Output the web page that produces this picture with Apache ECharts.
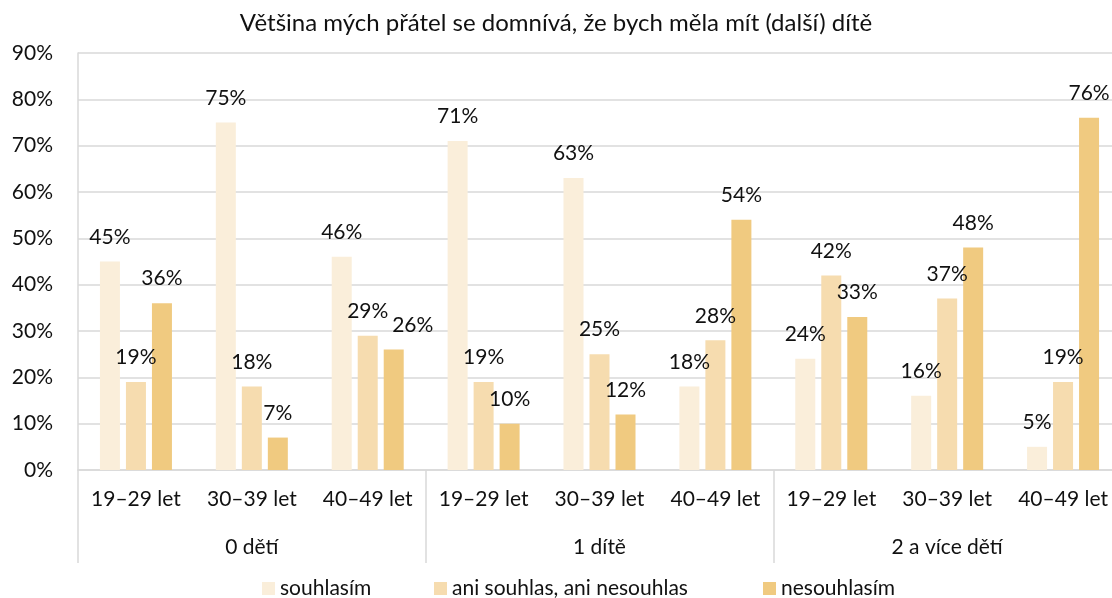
<!DOCTYPE html>
<html>
<head>
<meta charset="utf-8">
<title>Většina mých přátel se domnívá, že bych měla mít (další) dítě</title>
<script src="https://cdn.jsdelivr.net/npm/echarts@6/dist/echarts.min.js"></script>
<style>
  html, body { margin: 0; padding: 0; background: #ffffff; }
  #chart { width: 1112px; height: 598px; }
</style>
</head>
<body>
<div id="chart"></div>
<script>
// Age bands shown under each bar cluster, repeated for every group
const ageBands = ['19–29 let', '30–39 let', '40–49 let'];
// Outer grouping: number of children
const childGroups = ['0 dětí', '1 dítě', '2 a více dětí'];
// Flattened inner categories (3 groups × 3 age bands)
const categories = childGroups.flatMap(() => ageBands);

// Answer shares in percent, in category order
const seriesNames = ['souhlasím', 'ani souhlas, ani nesouhlas', 'nesouhlasím'];
const agree    = [45, 75, 46, 71, 63, 18, 24, 16, 5];
const neutral  = [19, 18, 29, 19, 25, 28, 42, 37, 19];
const disagree = [36, 7, 26, 10, 12, 54, 33, 48, 76];

const yTicks = [0, 10, 20, 30, 40, 50, 60, 70, 80, 90];

const colors = ['#FAEEDA', '#F6DCAF', '#F0CA80'];
const FONT = 'Lato, "Noto Sans", sans-serif';
const TEXT = '#111111';
const GRID = '#d9d9d9';
const FS = 21;

// one label is nudged sideways so it clears the neighbouring bar
const labelNudge = { 2: { 2: 19 } };
// left edge of each legend entry
const legendLeft = [262, 434, 763];

function buildSeries(values, idx) {
  return {
    name: seriesNames[idx],
    type: 'bar',
    xAxisIndex: 0,
    yAxisIndex: 0,
    barWidth: 20,
    barGap: '30%',
    itemStyle: { color: colors[idx] },
    label: {
      show: true,
      position: 'top',
      distance: 14,
      formatter: p => p.value + '%',
      fontFamily: FONT,
      fontSize: FS,
      color: TEXT
    },
    data: values.map((v, i) => {
      const dx = labelNudge[idx] && labelNudge[idx][i];
      return dx ? { value: v, label: { offset: [dx, 0] } } : v;
    })
  };
}

const chart = echarts.init(document.getElementById('chart'), null, { renderer: 'canvas' });

chart.setOption({
  backgroundColor: '#ffffff',
  animation: false,
  title: {
    text: 'Většina mých přátel se domnívá, že bych měla mít (další) dítě',
    left: 'center',
    top: 6,
    textStyle: { fontFamily: FONT, fontSize: 24, fontWeight: 'normal', color: TEXT }
  },
  legend: seriesNames.map((name, i) => ({
    data: [name],
    left: legendLeft[i],
    top: 578,
    padding: 0,
    icon: 'rect',
    itemWidth: 13,
    itemHeight: 13,
    textStyle: { fontFamily: FONT, fontSize: FS, color: TEXT }
  })),
  grid: {
    left: 78, top: 53, width: 1043, height: 417,
    outerBoundsMode: 'none'
  },
  xAxis: [
    {
      type: 'category',
      data: categories,
      position: 'bottom',
      axisLine: { show: true, lineStyle: { color: GRID, width: 1.5 } },
      axisTick: { show: false },
      axisLabel: { margin: 19, fontFamily: FONT, fontSize: FS, color: TEXT, interval: 0 }
    },
    {
      type: 'category',
      data: childGroups,
      position: 'bottom',
      axisLine: { show: false },
      axisTick: { show: true, length: 93, lineStyle: { color: GRID, width: 1.5 } },
      axisLabel: { margin: 67, fontFamily: FONT, fontSize: FS, color: TEXT, interval: 0 },
      splitLine: { show: false }
    }
  ],
  yAxis: {
    type: 'value',
    min: yTicks[0],
    max: yTicks[yTicks.length - 1],
    interval: yTicks[1] - yTicks[0],
    axisLine: { show: true, lineStyle: { color: GRID, width: 1.5 } },
    axisTick: { show: false },
    axisLabel: { margin: 25, formatter: '{value}%', fontFamily: FONT, fontSize: FS, color: TEXT },
    splitLine: { show: true, lineStyle: { color: GRID, width: 1.5 } }
  },
  series: [agree, neutral, disagree].map(buildSeries)
});
</script>
</body>
</html>
